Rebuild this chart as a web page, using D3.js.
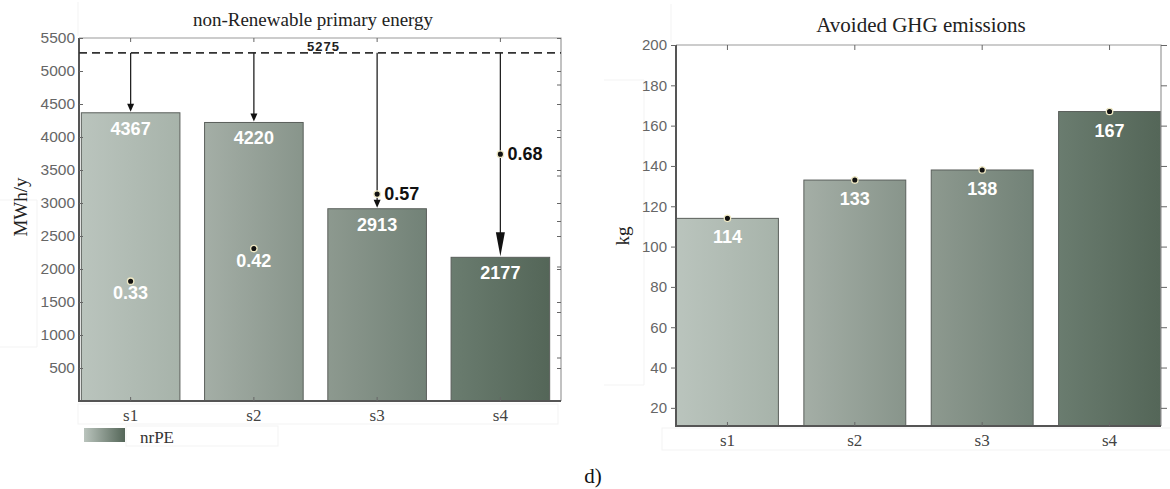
<!DOCTYPE html>
<html>
<head>
<meta charset="utf-8">
<script src="https://cdn.jsdelivr.net/npm/d3@7"></script>
<style>
  body { margin: 0; background: #fff; }
  svg { display: block; }
  .serif { font-family: "Liberation Serif", "Times New Roman", serif; }
  .sans { font-family: "Liberation Sans", Arial, sans-serif; }
</style>
</head>
<body>
<div id="container"></div>
<script>
// datos
var categories = ["s1", "s2", "s3", "s4"];
var nrpeValues = [4367, 4220, 2913, 2177];
var nrpeReference = 5275;
var nrpeRatios = [0.33, 0.42, 0.57, 0.68];
var ghgValues = [114, 133, 138, 167];
var nrpeTicks = [500, 1000, 1500, 2000, 2500, 3000, 3500, 4000, 4500, 5000, 5500];
var nrpeMinorTicks = [0.1, 0.2, 0.3, 0.4, 0.5, 0.6, 0.7];
var ghgTicks = [20, 40, 60, 80, 100, 120, 140, 160, 180, 200];
var barColors = [["#bac4bd", "#a7b3aa"], ["#a4aea6", "#88958b"], ["#8d998f", "#728277"], ["#6a7c6f", "#546658"]];

var W = 1170, H = 489;

var svg = d3.select("#container").append("svg")
    .attr("width", W)
    .attr("height", H);

var defs = svg.append("defs");
barColors.forEach(function (c, i) {
    var g = defs.append("linearGradient").attr("id", "grad" + i)
        .attr("x1", "0").attr("x2", "1").attr("y1", "0").attr("y2", "0");
    g.append("stop").attr("offset", "0%").attr("stop-color", c[0]);
    g.append("stop").attr("offset", "100%").attr("stop-color", c[1]);
});
var lg = defs.append("linearGradient").attr("id", "gradLegend")
    .attr("x1", "0").attr("x2", "1").attr("y1", "0").attr("y2", "0");
lg.append("stop").attr("offset", "0%").attr("stop-color", barColors[0][0]);
lg.append("stop").attr("offset", "100%").attr("stop-color", barColors[3][1]);

// cajas tenues del recorte original
var faint = svg.append("g").attr("fill", "none").attr("stroke", "#f3f3f3").attr("stroke-width", 1);
faint.append("path").attr("d", "M0,200H37V347H0");
faint.append("path").attr("d", "M78,2V36");
faint.append("rect").attr("x", 78).attr("y", 404).attr("width", 480).attr("height", 20);
faint.append("rect").attr("x", 126).attr("y", 426).attr("width", 152).attr("height", 20);
faint.append("path").attr("d", "M604,80H644V385H604");
faint.append("path").attr("d", "M671,4V42");
faint.append("rect").attr("x", 662).attr("y", 428).attr("width", 510).attr("height", 22);

// ---------- grafico izquierdo: nrPE ----------
var L = { left: 79, right: 561, top: 38, bottom: 401 };
var yL = d3.scaleLinear().domain([0, 5500]).range([L.bottom, L.top]);
var yLminor = d3.scaleLinear().domain([0, 0.8]).range([L.bottom + 2, L.top + 1]);
var xL = d3.scaleBand().domain(categories).range([69, 562]).paddingInner(0.2).paddingOuter(0.1);

var gl = svg.append("g");

// barras
gl.selectAll(".bar").data(nrpeValues).enter().append("rect")
    .attr("x", function (d, i) { return xL(categories[i]); })
    .attr("y", function (d) { return yL(d); })
    .attr("width", xL.bandwidth())
    .attr("height", function (d) { return yL(0) - yL(d); })
    .attr("fill", function (d, i) { return "url(#grad" + i + ")"; })
    .attr("stroke", "#5a5f5b")
    .attr("stroke-width", 1);

// marco
gl.append("path").attr("d", "M" + L.left + "," + L.top + "H" + L.right + "V" + L.bottom)
    .attr("fill", "none").attr("stroke", "#9a9a9a").attr("stroke-width", 1.2);
gl.append("path").attr("d", "M" + L.left + "," + L.top + "V" + L.bottom + "H" + L.right)
    .attr("fill", "none").attr("stroke", "#555").attr("stroke-width", 2);

// ejes
var axL = gl.append("g").attr("transform", "translate(" + L.left + ",0)")
    .call(d3.axisLeft(yL).tickValues(nrpeTicks).tickSize(-4).tickPadding(4).tickFormat(d3.format("d")));
var axLr = gl.append("g").attr("transform", "translate(" + L.right + ",0)")
    .call(d3.axisRight(yL).tickValues(nrpeTicks).tickSize(-4).tickFormat(""));
var axLr2 = gl.append("g").attr("transform", "translate(" + L.right + ",0)")
    .call(d3.axisRight(yLminor).tickValues(nrpeMinorTicks).tickSize(-4).tickFormat(""));
var axLt = gl.append("g").attr("transform", "translate(0," + L.top + ")")
    .call(d3.axisTop(xL).tickSize(-4).tickFormat(""));
var axLb = gl.append("g").attr("transform", "translate(0," + L.bottom + ")")
    .call(d3.axisBottom(xL).tickSize(-4).tickPadding(8));

[axL, axLr, axLr2, axLt, axLb].forEach(function (a) {
    a.select(".domain").remove();
    a.selectAll(".tick line").attr("stroke", "#666");
});
axL.selectAll("text").attr("class", "sans").attr("font-size", 15.5).attr("fill", "#666");
axLb.selectAll("text").attr("class", "serif").attr("font-size", 17).attr("fill", "#444");

// linea de referencia
gl.append("line")
    .attr("x1", L.left).attr("x2", L.right)
    .attr("y1", yL(nrpeReference)).attr("y2", yL(nrpeReference))
    .attr("stroke", "#333").attr("stroke-width", 1.6).attr("stroke-dasharray", "8,5");
gl.append("text").attr("class", "sans")
    .attr("x", (xL("s2") + xL("s3") + xL.bandwidth()) / 2 + 8)
    .attr("y", yL(nrpeReference) - 2)
    .attr("text-anchor", "middle")
    .attr("font-size", 13).attr("font-weight", "bold").attr("fill", "#222")
    .attr("letter-spacing", 1)
    .text(nrpeReference);

// flechas
nrpeValues.forEach(function (v, i) {
    var cx = xL(categories[i]) + xL.bandwidth() / 2;
    var big = i === nrpeValues.length - 1;
    var hh = big ? 24 : 8, hw = big ? 4.5 : 3.5;
    var tip = yL(v) - 1;
    gl.append("line")
        .attr("x1", cx).attr("x2", cx)
        .attr("y1", yL(nrpeReference)).attr("y2", tip - hh + 1)
        .attr("stroke", "#222").attr("stroke-width", 1.3);
    gl.append("path")
        .attr("d", "M" + (cx - hw) + "," + (tip - hh) + "L" + (cx + hw) + "," + (tip - hh) + "L" + cx + "," + tip + "Z")
        .attr("fill", "#111");
});

// etiquetas de valor
gl.selectAll(".val").data(nrpeValues).enter().append("text")
    .attr("class", "sans")
    .attr("x", function (d, i) { return xL(categories[i]) + xL.bandwidth() / 2; })
    .attr("y", function (d) { return yL(d) + 22; })
    .attr("text-anchor", "middle")
    .attr("font-size", 18).attr("font-weight", "bold").attr("fill", "#fff")
    .text(function (d) { return d; });

// puntos de ratio
var yFrac = d3.scaleLinear().domain([0, 1]).range([yL(0), yL(5500)]);
nrpeRatios.forEach(function (r, i) {
    var cx = xL(categories[i]) + xL.bandwidth() / 2;
    var cy = yFrac(r);
    var inside = yFrac(r) > yL(nrpeValues[i]);
    gl.append("circle").attr("cx", cx).attr("cy", cy).attr("r", 3.2)
        .attr("fill", "#111").attr("stroke", "#efe9c4").attr("stroke-width", 1.3);
    gl.append("text").attr("class", "sans")
        .attr("x", inside ? cx : cx + 7)
        .attr("y", inside ? cy + 18 : cy + 6)
        .attr("text-anchor", inside ? "middle" : "start")
        .attr("font-size", 18).attr("font-weight", "bold")
        .attr("fill", inside ? "#fff" : "#111")
        .text(r.toFixed(2));
});

// titulo y eje y
gl.append("text").attr("class", "serif")
    .attr("x", 313).attr("y", 26)
    .attr("text-anchor", "middle").attr("font-size", 19).attr("fill", "#222")
    .text("non-Renewable primary energy");
gl.append("text").attr("class", "serif")
    .attr("transform", "translate(27,207) rotate(-90)")
    .attr("text-anchor", "middle").attr("font-size", 19).attr("fill", "#222")
    .text("MWh/y");

// leyenda
gl.append("rect").attr("x", 84).attr("y", 428).attr("width", 41).attr("height", 14)
    .attr("fill", "url(#gradLegend)");
gl.append("text").attr("class", "serif")
    .attr("x", 140).attr("y", 443).attr("font-size", 17).attr("fill", "#333")
    .text("nrPE");

// ---------- grafico derecho: GHG ----------
var R = { left: 676, right: 1161, top: 45, bottom: 426 };
var yR = d3.scaleLinear().domain([11, 200]).range([R.bottom, R.top]);
var xR = d3.scaleBand().domain(categories).range([R.left + 0.5, R.right - 0.5]).paddingInner(0.2).paddingOuter(0);

var gr = svg.append("g");

gr.selectAll(".bar").data(ghgValues).enter().append("rect")
    .attr("x", function (d, i) { return xR(categories[i]); })
    .attr("y", function (d) { return yR(d); })
    .attr("width", xR.bandwidth())
    .attr("height", function (d) { return yR.range()[0] - yR(d); })
    .attr("fill", function (d, i) { return "url(#grad" + i + ")"; })
    .attr("stroke", "#5a5f5b")
    .attr("stroke-width", 1);

gr.append("path").attr("d", "M" + R.left + "," + R.top + "H" + R.right + "V" + R.bottom)
    .attr("fill", "none").attr("stroke", "#9a9a9a").attr("stroke-width", 1.2);
gr.append("path").attr("d", "M" + R.left + "," + R.top + "V" + R.bottom + "H" + R.right)
    .attr("fill", "none").attr("stroke", "#555").attr("stroke-width", 2);

var axR = gr.append("g").attr("transform", "translate(" + R.left + ",0)")
    .call(d3.axisLeft(yR).tickValues(ghgTicks).tickSize(5).tickPadding(4));
var axRr = gr.append("g").attr("transform", "translate(" + R.right + ",0)")
    .call(d3.axisRight(yR).tickValues(ghgTicks).tickSize(6).tickFormat(""));
var axRt = gr.append("g").attr("transform", "translate(0," + R.top + ")")
    .call(d3.axisTop(xR).tickSize(-5).tickFormat(""));
var axRb = gr.append("g").attr("transform", "translate(0," + R.bottom + ")")
    .call(d3.axisBottom(xR).tickSize(-4).tickPadding(8));

[axR, axRr, axRt, axRb].forEach(function (a) {
    a.select(".domain").remove();
    a.selectAll(".tick line").attr("stroke", "#666");
});
axR.selectAll("text").attr("class", "sans").attr("font-size", 15).attr("fill", "#666");
axRb.selectAll("text").attr("class", "serif").attr("font-size", 17).attr("fill", "#444");

gr.selectAll(".dot").data(ghgValues).enter().append("circle")
    .attr("cx", function (d, i) { return xR(categories[i]) + xR.bandwidth() / 2; })
    .attr("cy", function (d) { return yR(d); })
    .attr("r", 3.2)
    .attr("fill", "#111").attr("stroke", "#efe9c4").attr("stroke-width", 1.3);

gr.selectAll(".val").data(ghgValues).enter().append("text")
    .attr("class", "sans")
    .attr("x", function (d, i) { return xR(categories[i]) + xR.bandwidth() / 2; })
    .attr("y", function (d) { return yR(d) + 25; })
    .attr("text-anchor", "middle")
    .attr("font-size", 18).attr("font-weight", "bold").attr("fill", "#fff")
    .text(function (d) { return d; });

gr.append("text").attr("class", "serif")
    .attr("x", 921).attr("y", 32)
    .attr("text-anchor", "middle").attr("font-size", 21).attr("fill", "#222")
    .text("Avoided GHG emissions");
gr.append("text").attr("class", "serif")
    .attr("transform", "translate(629,236) rotate(-90)")
    .attr("text-anchor", "middle").attr("font-size", 19).attr("fill", "#222")
    .text("kg");

// etiqueta del panel
svg.append("text").attr("class", "serif")
    .attr("x", 593).attr("y", 483)
    .attr("text-anchor", "middle").attr("font-size", 21).attr("fill", "#111")
    .text("d)");
</script>
</body>
</html>
